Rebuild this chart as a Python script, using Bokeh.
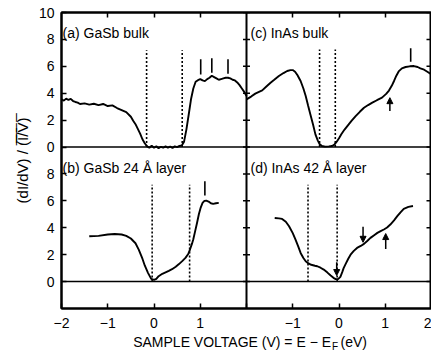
import numpy as np
from bokeh.plotting import figure
from bokeh.layouts import column
from bokeh.models import (Range1d, FixedTicker, LinearAxis, Span, Label, Arrow,
                          NormalHead)
from bokeh.core.properties import value
from bokeh.embed import file_html
from bokeh.resources import INLINE

# ---------------- data ----------------
# (a) GaSb bulk
a_x = [-2.0, -1.95, -1.9, -1.85, -1.8, -1.75, -1.7, -1.65, -1.6, -1.5, -1.4, -1.3, -1.2,
       -1.1, -1.0, -0.9, -0.8, -0.7, -0.6, -0.5, -0.45, -0.4, -0.35, -0.3, -0.25, -0.2,
       -0.15, -0.1, -0.05, 0.0, 0.05, 0.1, 0.15, 0.2, 0.25, 0.3, 0.35, 0.4, 0.45, 0.5,
       0.55, 0.6, 0.65, 0.7, 0.75, 0.8, 0.85, 0.9, 0.95, 1.0, 1.05, 1.1, 1.15, 1.2, 1.25,
       1.3, 1.35, 1.4, 1.45, 1.5, 1.55, 1.6, 1.65, 1.7, 1.75, 1.8, 1.85, 1.9, 1.95, 2.0]
a_y = [3.55, 3.45, 3.6, 3.5, 3.58, 3.42, 3.35, 3.3, 3.2, 3.25, 3.15, 3.22, 3.12,
       3.2, 3.05, 3.1, 2.9, 2.75, 2.6, 2.25, 1.95, 1.7, 1.35, 1.0, 0.58, 0.28,
       0.05, -0.05, 0.1, -0.05, 0.05, -0.08, 0.02, -0.05, 0.05, -0.05, 0.03, -0.06, 0.05, 0.0,
       0.08, 0.12, 0.4, 1.3, 2.4, 3.55, 4.35, 4.85, 4.97, 5.05, 4.95, 4.9, 5.05, 5.15, 5.3,
       5.2, 5.1, 5.0, 5.05, 5.1, 5.15, 5.15, 5.1, 5.0, 4.95, 4.8, 4.6, 4.35, 4.1, 3.8]

# (b) GaSb 24 Å layer
b_x = [-1.4, -1.2, -1.0, -0.85, -0.7, -0.6, -0.5, -0.4, -0.33, -0.25, -0.2, -0.13, -0.06,
       0.0, 0.05, 0.1, 0.18, 0.25, 0.32, 0.39, 0.47, 0.54, 0.61, 0.68, 0.74, 0.78, 0.82,
       0.85, 0.89, 0.93, 0.97, 1.01, 1.05, 1.09, 1.13, 1.18, 1.23, 1.28, 1.34, 1.4]
b_y = [3.37, 3.4, 3.5, 3.54, 3.5, 3.4, 3.2, 2.85, 2.38, 1.7, 1.2, 0.65, 0.2,
       0.12, 0.2, 0.4, 0.58, 0.69, 0.8, 0.92, 1.1, 1.3, 1.52, 1.76, 2.05, 2.4, 2.8,
       3.15, 3.75, 4.36, 5.0, 5.5, 5.85, 6.0, 6.02, 5.95, 5.82, 5.78, 5.82, 5.85]

# (c) InAs bulk
c_x = [-2.0, -1.9, -1.81, -1.73, -1.66, -1.57, -1.48, -1.4, -1.3, -1.2, -1.12, -1.05, -1.0,
       -0.95, -0.9, -0.83, -0.77, -0.72, -0.67, -0.62, -0.56, -0.51, -0.46, -0.42, -0.37,
       -0.3, -0.22, -0.15, -0.1, -0.05, 0.0, 0.05, 0.12, 0.18, 0.27, 0.36, 0.45, 0.54, 0.63,
       0.72, 0.82, 0.93, 1.02, 1.08, 1.14, 1.19, 1.24, 1.29, 1.36, 1.44, 1.53, 1.62, 1.7,
       1.76, 1.84, 1.91, 2.0]
c_y = [3.54, 3.75, 3.97, 4.1, 4.21, 4.5, 4.78, 5.0, 5.28, 5.5, 5.65, 5.72, 5.72,
       5.6, 5.35, 4.91, 4.35, 3.79, 3.1, 2.43, 1.65, 0.94, 0.5, 0.22, 0.08,
       0.03, 0.05, 0.08, 0.18, 0.4, 0.65, 0.95, 1.3, 1.56, 1.95, 2.3, 2.62, 2.92, 3.12,
       3.3, 3.48, 3.67, 3.95, 4.2, 4.55, 4.91, 5.3, 5.62, 5.85, 5.95, 6.0, 6.02, 5.95,
       5.85, 5.75, 5.6, 5.4]

# (d) InAs 42 Å layer
d_x = [-1.39, -1.3, -1.23, -1.15, -1.08, -1.0, -0.94, -0.88, -0.83, -0.77, -0.72, -0.66,
       -0.6, -0.52, -0.47, -0.4, -0.33, -0.25, -0.18, -0.12, -0.07, -0.02, 0.03, 0.07, 0.1,
       0.15, 0.2, 0.25, 0.32, 0.39, 0.47, 0.54, 0.61, 0.68, 0.76, 0.83, 0.9, 0.97, 1.04,
       1.11, 1.19, 1.26, 1.33, 1.4, 1.5, 1.6]
d_y = [4.73, 4.7, 4.66, 4.45, 4.11, 3.6, 3.12, 2.6, 2.13, 1.75, 1.51, 1.35,
       1.25, 1.18, 1.14, 1.03, 0.89, 0.67, 0.45, 0.28, 0.18, 0.18, 0.35, 0.7, 1.0,
       1.35, 1.7, 2.0, 2.28, 2.5, 2.65, 2.8, 3.02, 3.25, 3.45, 3.62, 3.75, 3.87, 4.02,
       4.24, 4.55, 4.86, 5.15, 5.41, 5.55, 5.62]

# band-edge (dotted) positions and their heights
a_edges = [-0.16, 0.61]
b_edges = [-0.04, 0.77]
c_edges = [-0.42, -0.08]
d_edges = [-0.67, -0.04]
edge_top = [7.2, 7.2, 7.25, 7.2]

# feature bars: x, bottom, top
a_bar_x = [1.01, 1.25, 1.60]
a_bar_y0 = [5.40, 5.53, 5.45]
a_bar_y1 = [6.52, 6.60, 6.52]
b_bar_x = [1.10]
b_bar_y0 = [6.39]
b_bar_y1 = [7.46]
c_bar_x = [1.55]
c_bar_y0 = [6.34]
c_bar_y1 = [7.34]

# arrows: x, tail y, tip y
c_arrow_x = [1.10]
c_arrow_tail = [2.68]
c_arrow_tip = [3.67]
d_arrow_x = [0.52, 1.01, -0.05]
d_arrow_tail = [4.07, 2.43, 1.44]
d_arrow_tip = [2.92, 3.57, 0.45]

panel_titles = ["(a) GaSb bulk", "(b) GaSb 24 Å layer", "(c) InAs bulk", "(d) InAs 42 Å layer"]

x_tick_labels_left = ["−2", "−1", "0", "1"]
x_tick_labels_right = ["−1", "0", "1", "2"]
y_tick_labels_bottom = ["0", "2", "4", "6", "8"]
y_tick_labels_top = ["0", "2", "4", "6", "8", "10"]

x_title_main = "SAMPLE VOLTAGE (V) = E − E"
x_title_sub = "F"
x_title_unit = "(eV)"

# ---------------- layout ----------------
XS = 4.0    # right column shift
YS = 10.0   # top row shift
FONT = "Liberation Sans"
H_MAIN = 335
H_LAB = 353 - H_MAIN

p = figure(width=431, height=H_MAIN, x_range=Range1d(-2, 6), y_range=Range1d(-2, 20),
           output_backend="svg", toolbar_location=None,
           min_border_left=61, min_border_right=0, min_border_top=12, min_border_bottom=27)
p.xgrid.visible = False
p.ygrid.visible = False
p.outline_line_color = "black"
p.outline_line_width = 2

x_ticks = [-2, -1, 0, 1, 2, 3, 4, 5, 6]
x_over = {}
for i, lab in enumerate(x_tick_labels_left):
    x_over[-2 + i] = lab
x_over[2] = ""
for i, lab in enumerate(x_tick_labels_right):
    x_over[3 + i] = lab

y_ticks = [0, 2, 4, 6, 8, 10, 12, 14, 16, 18, 20]
y_over = {}
for i, lab in enumerate(y_tick_labels_bottom):
    y_over[2 * i] = lab
for i, lab in enumerate(y_tick_labels_top):
    y_over[10 + 2 * i] = lab

xa = p.xaxis[0]
xa.ticker = FixedTicker(ticks=x_ticks)
xa.major_label_overrides = x_over
xa.major_tick_in = 5
xa.major_tick_out = 0
xa.minor_tick_line_color = None
xa.axis_line_width = 2
xa.major_tick_line_width = 1.5
xa.major_label_standoff = 9
xa.major_label_text_font = FONT
xa.major_label_text_font_size = "14px"
xa.major_label_text_color = "black"

ya = p.yaxis[0]
ya.ticker = FixedTicker(ticks=y_ticks)
ya.major_label_overrides = y_over
ya.major_tick_in = 5
ya.major_tick_out = 0
ya.minor_tick_line_color = None
ya.axis_line_width = 2
ya.major_tick_line_width = 1.5
ya.major_label_standoff = 7
ya.major_label_text_font = FONT
ya.major_label_text_font_size = "14px"
ya.major_label_text_color = "black"
ya.axis_label = "(dI/dV) / (\u0305I\u0305/\u0305V\u0305)\u0305"
ya.axis_label_text_font = FONT
ya.axis_label_text_font_size = "15px"
ya.axis_label_text_font_style = "normal"
ya.axis_label_text_color = "black"
ya.axis_label_standoff = 5

top = LinearAxis(ticker=FixedTicker(ticks=[-1, 0, 1, 3, 4, 5]),
                 major_label_text_font_size="0px", major_label_text_color=None,
                 major_tick_in=5, major_tick_out=0, minor_tick_line_color=None,
                 axis_line_width=2, major_tick_line_width=1.5, major_label_standoff=0)
p.add_layout(top, "above")

# dividing lines
p.add_layout(Span(location=YS, dimension="width", line_color="black", line_width=1.5))
p.add_layout(Span(location=0, dimension="width", line_color="black", line_width=1.5))
p.add_layout(Span(location=2, dimension="height", line_color="black", line_width=2))

# ticks on the middle divider and the right edge
p.scatter(x=[2] * len(y_ticks), y=y_ticks, marker="dash", size=7, line_color="black",
          line_width=1.5)
p.scatter(x=[6] * len(y_ticks), y=y_ticks, marker="dash", size=10, line_color="black",
          line_width=1.5)

panels = [
    (a_x, a_y, a_edges, edge_top[0], 0.0, YS),
    (b_x, b_y, b_edges, edge_top[1], 0.0, 0.0),
    (c_x, c_y, c_edges, edge_top[2], XS, YS),
    (d_x, d_y, d_edges, edge_top[3], XS, 0.0),
]
for xs, ys, edges, etop, dx, dy in panels:
    p.line(np.array(xs) + dx, np.array(ys) + dy, line_color="black", line_width=1.9)
    ex = np.array(edges) + dx
    p.segment(x0=ex, y0=[dy] * len(ex), x1=ex, y1=[etop + dy] * len(ex),
              line_color="black", line_width=1.6, line_dash="2 2")

for bx, b0, b1, dx, dy in [(a_bar_x, a_bar_y0, a_bar_y1, 0.0, YS),
                           (b_bar_x, b_bar_y0, b_bar_y1, 0.0, 0.0),
                           (c_bar_x, c_bar_y0, c_bar_y1, XS, YS)]:
    bxa = np.array(bx) + dx
    p.segment(x0=bxa, y0=np.array(b0) + dy, x1=bxa, y1=np.array(b1) + dy,
              line_color="black", line_width=1.6)

for ax_, at, ap, dx, dy in [(c_arrow_x, c_arrow_tail, c_arrow_tip, XS, YS),
                            (d_arrow_x, d_arrow_tail, d_arrow_tip, XS, 0.0)]:
    for x_, t_, h_ in zip(ax_, at, ap):
        p.add_layout(Arrow(x_start=x_ + dx, y_start=t_ + dy, x_end=x_ + dx, y_end=h_ + dy,
                           line_color="black", line_width=1.5,
                           end=NormalHead(size=6, fill_color="black", line_color="black",
                                          line_width=1)))

# panel titles
title_pos = [(-1.978, 18.44), (-1.978, 8.41), (2.086, 18.44), (2.086, 8.41)]
for t, (tx, ty) in zip(panel_titles, title_pos):
    p.add_layout(Label(x=tx, y=ty, text=t, text_font=FONT, text_font_size="14px",
                       text_baseline="middle", text_align="left", text_color="black"))

# ---- strip below for the x-axis title (with subscript F) ----
p2 = figure(width=431, height=H_LAB, x_range=Range1d(0, 431), y_range=Range1d(0, H_LAB),
            output_backend="svg", toolbar_location=None, min_border=0)
p2.axis.visible = False
p2.grid.visible = False
p2.outline_line_color = None
yc = H_LAB - (341.5 - H_MAIN)
p2.text(x=[314], y=[yc], text=[x_title_main], text_font=value(FONT), text_font_size="14px",
        text_baseline="middle", text_align="right", text_color="black")
p2.text(x=[315], y=[yc - 4.5], text=[x_title_sub], text_font=value(FONT),
        text_font_size="10px", text_baseline="middle", text_align="left", text_color="black")
p2.text(x=[325], y=[yc], text=[x_title_unit], text_font=value(FONT), text_font_size="14px",
        text_baseline="middle", text_align="left", text_color="black")

layout = column(p, p2, spacing=0)
open("out.html", "w").write(file_html(layout, INLINE))
